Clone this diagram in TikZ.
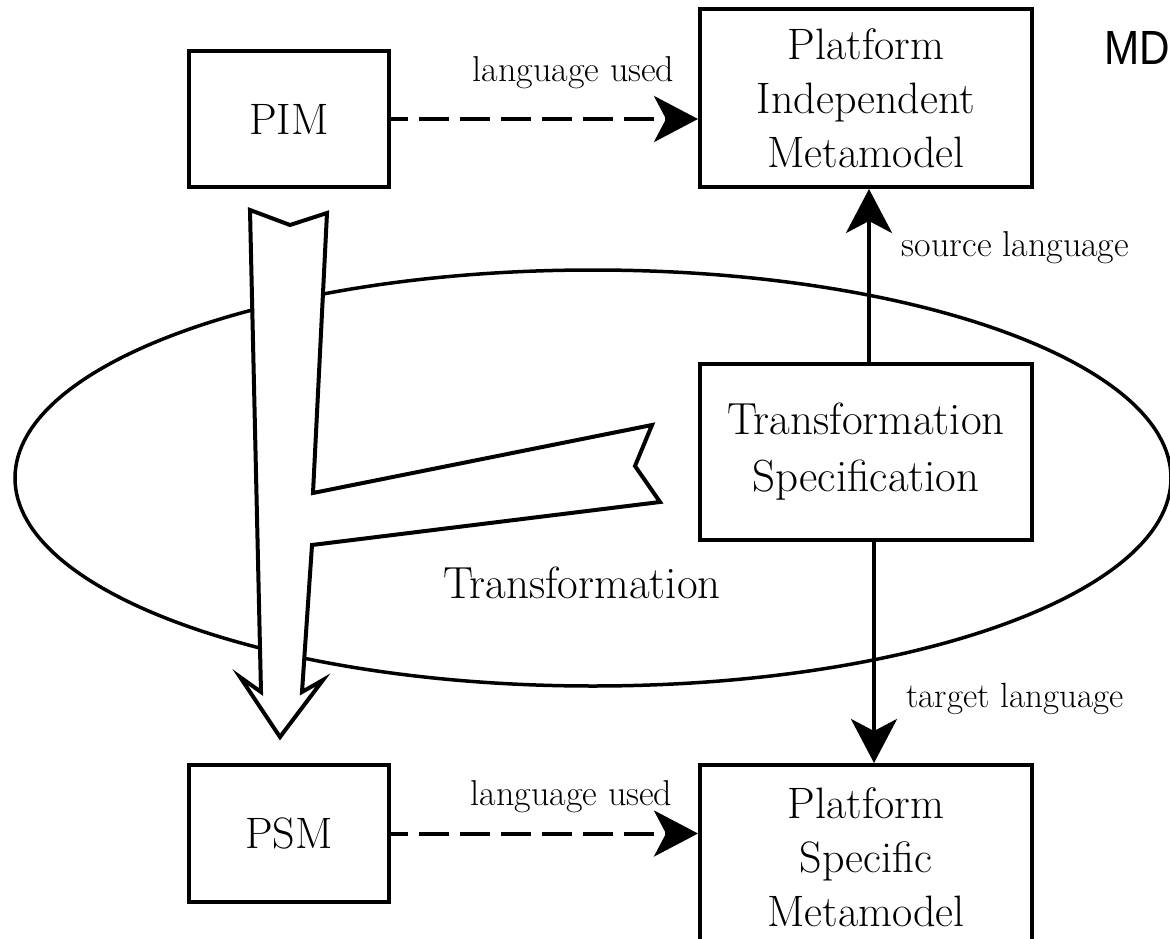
\documentclass[tikz,border=0pt]{standalone}
\usepackage{fontspec}
\newfontfamily\mdfont{Liberation Sans}
\usetikzlibrary{arrows.meta}
\begin{document}
\begin{tikzpicture}[x=1pt,y=-1pt,
  box/.style={draw, line width=4pt, fill=white, inner sep=0pt, align=center,
    font=\fontsize{44}{54}\selectfont},
  lbl/.style={inner sep=0pt, anchor=base, font=\fontsize{36}{42}\selectfont},
  arr/.style={line width=4pt, -{Stealth[length=44pt,width=46pt,inset=12pt]}},
  dasharr/.style={arr, dash pattern=on 30pt off 11pt, dash phase=13pt},
  bigarrow/.style={draw, line width=4pt, fill=white, line join=miter},
  ring/.style={draw, line width=3.5pt}
]
\useasboundingbox (0,0) rectangle (1170,939);
\clip (0,0) rectangle (1170,939);
\fill[white] (0,0) rectangle (1170,939);

% transformation ellipse
\draw[ring] (593,478) ellipse [x radius=578, y radius=208];

% hollow transformation arrow
\draw[bigarrow] (250,210) -- (290,225) -- (327,213) -- (313,493) -- (652,425)
  -- (635,466) -- (660,502) -- (312,545) -- (302,692) -- (323,680)
  -- (280,737) -- (240,677) -- (261,692) -- cycle;

% boxes
\node[box, minimum width=200pt, minimum height=136pt] (PIM) at (289,119) {PIM};
\node[box, minimum width=332pt, minimum height=178pt] (PIMM) at (866,98) {Platform\\Independent\\Metamodel};
\node[box, minimum width=332pt, minimum height=176pt, font=\fontsize{45}{57}\selectfont] (TS) at (866,452) {Transformation\\Specification};
\node[box, minimum width=332pt, minimum height=185pt] (PSMM) at (866,857.5) {Platform\\Specific\\Metamodel};
\node[box, minimum width=200pt, minimum height=137pt] (PSM) at (289,833.5) {PSM};

% connectors
\draw[dasharr] (PIM.east) -- (PIM.east -| PIMM.west);
\draw[dasharr] (PSM.east) -- (PSM.east -| PSMM.west);
\draw[arr] ([xshift=3pt]TS.north) -- ([xshift=3pt]PIMM.south);
\draw[arr] ([xshift=8pt]TS.south) -- ([xshift=8pt]PSMM.north);

% labels
\node[lbl] (lu1) at (573.5,82) {language used};
\node[lbl] (lu2) at (571.5,805) {language used};
\node[lbl] (sl) at (1015.5,256) {source language};
\node[lbl, font=\fontsize{35}{42}\selectfont] (tl) at (1015,707) {target language};
\node[lbl, font=\fontsize{45}{52}\selectfont] (tr) at (582,598) {Transformation};
\node[inner sep=0pt, anchor=base west, font=\mdfont\fontsize{48}{56}\selectfont] (md) at (1104,65) {\scalebox{0.88}[1]{MD}};
\end{tikzpicture}
\end{document}
